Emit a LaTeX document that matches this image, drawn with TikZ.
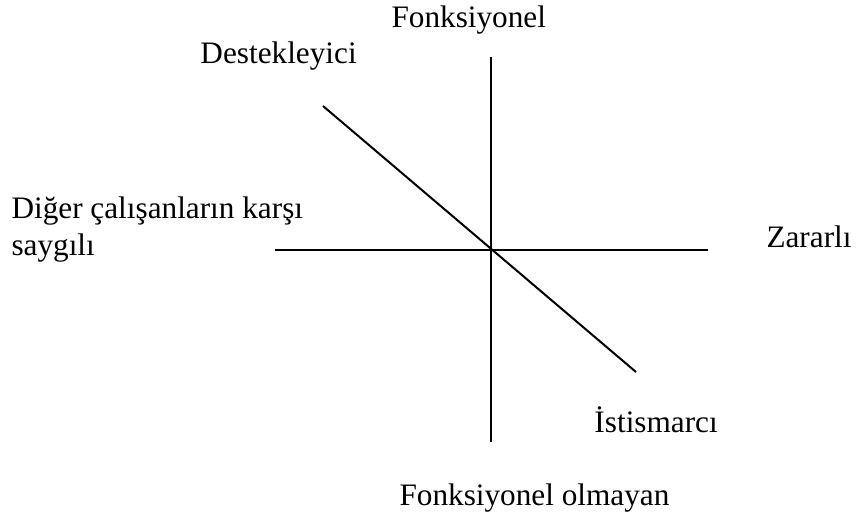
\documentclass[tikz,border=0pt]{standalone}
\usepackage{fontspec}
\setmainfont{Liberation Serif}
\begin{document}
\begin{tikzpicture}[x=0.4pt,y=-0.4pt,
  axis/.style={line width=0.8pt, black},
  lbl/.style={anchor=base west, inner sep=0pt, font=\fontsize{12.5pt}{15pt}\selectfont}]
\useasboundingbox[fill=white] (0,0) rectangle (856,521);
\coordinate (vt) at (491.5,57);
\coordinate (vb) at (491.5,442);
\coordinate (hl) at (275,250);
\coordinate (hr) at (708,250);
\coordinate (dt) at (323,106);
\coordinate (db) at (636,372);
\draw[axis] (vt) -- (vb);
\draw[axis] (hl) -- (hr);
\draw[axis] (dt) -- (db);
\node[lbl] (f) at (391,27) {Fonksiyonel};
\node[lbl] (d) at (200,63) {Destekleyici};
\node[lbl] (o1) at (11,218) {Diğer çalışanların karşı};
\node[lbl] (o2) at (11,255) {saygılı};
\node[lbl] (z) at (766,247) {Zararlı};
\node[lbl] (i) at (594,432) {İstismarcı};
\node[lbl] (fo) at (399,505) {Fonksiyonel olmayan};
\end{tikzpicture}
\end{document}
